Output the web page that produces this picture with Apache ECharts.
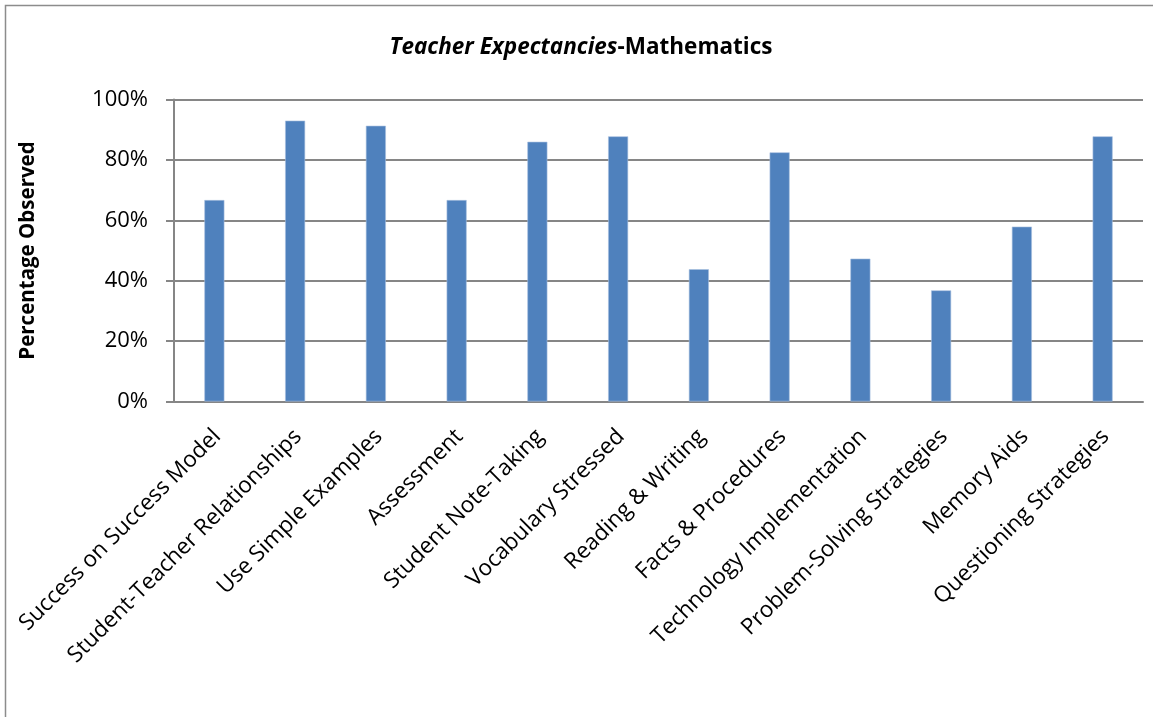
<!DOCTYPE html>
<html>
<head>
<meta charset="utf-8">
<script src="https://cdn.jsdelivr.net/npm/echarts@6/dist/echarts.min.js"></script>
<style>
  html, body { margin: 0; padding: 0; background: #fff; }
  #chart { width: 1153px; height: 717px; }
</style>
</head>
<body>
<div id="chart"></div>
<script>
// Teaching practices observed in mathematics classrooms
const categories = [
  'Success on Success Model',
  'Student-Teacher Relationships',
  'Use Simple Examples',
  'Assessment',
  'Student Note-Taking',
  'Vocabulary Stressed',
  'Reading & Writing',
  'Facts & Procedures',
  'Technology Implementation',
  'Problem-Solving Strategies',
  'Memory Aids',
  'Questioning Strategies'
];
// Share of observations (%) in which each practice was seen
const percentObserved = [66.7, 93.0, 91.3, 66.7, 86.0, 87.8, 43.8, 82.5, 47.3, 36.8, 57.9, 87.8];
const yTicks = [0, 20, 40, 60, 80, 100];

const FONT = '"Open Sans", Lato, sans-serif';
const chart = echarts.init(document.getElementById('chart'));

chart.setOption({
  backgroundColor: '#ffffff',
  animation: false,
  graphic: [{
    type: 'rect',
    shape: { x: 5.5, y: 5.5, width: 1160, height: 730 },
    style: { fill: 'none', stroke: '#8c8c8c', lineWidth: 1.5 },
    silent: true
  }],
  title: {
    text: '{i|Teacher Expectancies}{b|-Mathematics}',
    left: 576,
    textAlign: 'center',
    top: 31,
    textStyle: {
      rich: {
        i: { fontFamily: FONT, fontSize: 22.5, fontWeight: 'bold', fontStyle: 'italic', color: '#000' },
        b: { fontFamily: FONT, fontSize: 22.5, fontWeight: 'bold', color: '#000' }
      }
    }
  },
  grid: { left: 174, right: 10, top: 99.5, bottom: 315.5, containLabel: false },
  xAxis: {
    type: 'category',
    data: categories,
    axisLine: { lineStyle: { color: '#868686', width: 2 } },
    axisTick: { show: false },
    axisLabel: {
      rotate: 45,
      interval: 0,
      margin: 16,
      align: 'right',
      verticalAlign: 'top',
      lineHeight: 26,
      padding: [0, 9, 0, 0],
      color: '#000',
      fontFamily: FONT,
      fontSize: 22.5
    }
  },
  yAxis: {
    type: 'value',
    min: yTicks[0],
    max: yTicks[yTicks.length - 1],
    interval: yTicks[1] - yTicks[0],
    name: 'Percentage Observed',
    nameLocation: 'middle',
    nameGap: 135,
    nameRotate: 90,
    nameTextStyle: { color: '#000', fontFamily: FONT, fontSize: 20.5, fontWeight: 'bold' },
    axisLine: { show: true, lineStyle: { color: '#868686', width: 2 } },
    axisTick: { show: true, length: 8, lineStyle: { color: '#868686', width: 2 } },
    axisLabel: {
      color: '#000',
      fontFamily: FONT,
      fontSize: 22,
      margin: 26,
      formatter: v => v + '%'
    },
    splitLine: { lineStyle: { color: '#868686', width: 2 } }
  },
  series: [{
    type: 'bar',
    data: percentObserved,
    barWidth: 20,
    itemStyle: { color: '#4F81BD', borderColor: '#a7bfdf', borderWidth: 0.6 }
  }]
});
</script>
</body>
</html>
